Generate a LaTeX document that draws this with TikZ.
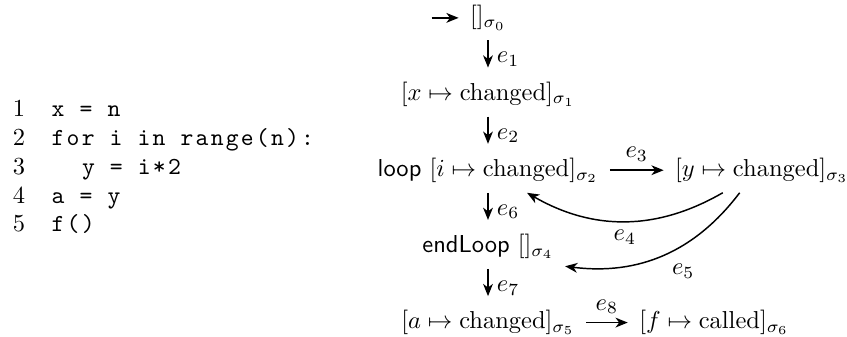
\documentclass[tikz,border=0pt]{standalone}
\usepackage{amsmath}
\usepackage{fontspec}
\usetikzlibrary{arrows.meta,positioning}
\newfontfamily\codefont{lmmono10-regular.otf}[LetterSpace=9]

\begin{document}
\begin{tikzpicture}[x=0.1435mm,y=-0.1435mm,
    node distance=12.7pt,
    state/.style={inner xsep=4.5pt,inner ysep=3pt,text height=8.5pt,text depth=3.5pt},
    trans/.style={-{Stealth[length=5pt,width=4pt,inset=1.5pt]},line width=0.6pt},
    down/.style={trans,shorten >=1.6pt},
    elabel/.style={auto,inner sep=3.33pt},
    lineno/.style={anchor=base east,inner sep=0pt},
    codeline/.style={inner sep=0pt,font=\codefont}]
  \useasboundingbox (0,0) rectangle (847,337);
  % program
  \foreach \i/\yy/\src in {1/117/{x = n},2/145.75/{for i in range(n):},
      3/174.5/{\hspace*{12.4pt}y = i*2},4/203.25/{a = y},5/232/{f()}}{
    \node[lineno] (ln\i) at (25.5,\yy) {\i};
    \node[codeline,base right=10.5pt of ln\i] (cl\i) {\src};
  }
  % states
  \node[state,anchor=base] (s0) at (488,24) {$[]_{\sigma_0}$};
  \node[state,below=of s0] (s1) {$[x\mapsto\text{changed}]_{\sigma_1}$};
  \node[state,below=of s1] (s2) {\textsf{loop} $[i\mapsto\text{changed}]_{\sigma_2}$};
  \node[state,right=22pt of s2] (s3) {$[y\mapsto\text{changed}]_{\sigma_3}$};
  \node[state,below=of s2] (s4) {\textsf{endLoop} $[]_{\sigma_4}$};
  \node[state,below=of s4] (s5) {$[a\mapsto\text{changed}]_{\sigma_5}$};
  \node[state,right=17pt of s5] (s6) {$[f\mapsto\text{called}]_{\sigma_6}$};
  \coordinate (init) at ([xshift=-11pt]s0.west);
  % transitions
  \draw[trans] (init) -- (s0);
  \draw[down] (s0) -- node[elabel,yshift=-1.4pt] {$e_1$} (s1);
  \draw[down] (s1) -- node[elabel,yshift=-1.4pt] {$e_2$} (s2);
  \draw[trans] (s2) -- node[elabel] {$e_3$} (s3);
  \draw[trans] (s3) to[bend left=30] node[elabel] {$e_4$} (s2);
  \draw[trans] (s3) to[bend left=30] node[elabel] {$e_5$} (s4);
  \draw[down] (s2) -- node[elabel,yshift=-1.4pt] {$e_6$} (s4);
  \draw[down] (s4) -- node[elabel,yshift=-1.4pt] {$e_7$} (s5);
  \draw[trans] (s5) -- node[elabel] {$e_8$} (s6);
\end{tikzpicture}
\end{document}
